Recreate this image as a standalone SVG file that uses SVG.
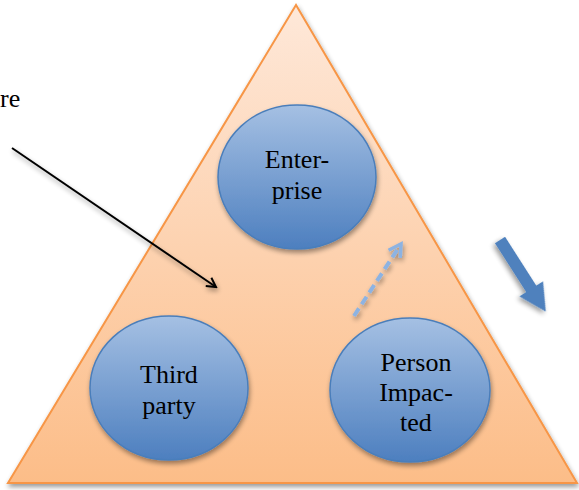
<svg xmlns="http://www.w3.org/2000/svg" width="579" height="490" viewBox="0 0 579 490">
<defs>
<linearGradient id="tri" x1="0" y1="0" x2="0" y2="1">
<stop offset="0" stop-color="#fee8d9"/>
<stop offset="1" stop-color="#fcbd88"/>
</linearGradient>
<linearGradient id="ball" x1="0" y1="0" x2="0" y2="1">
<stop offset="0" stop-color="#a5c0e3"/>
<stop offset="1" stop-color="#4d7fbf"/>
</linearGradient>
<filter id="sh" x="-20%" y="-20%" width="150%" height="150%">
<feGaussianBlur in="SourceAlpha" stdDeviation="2.5"/>
<feOffset dx="1" dy="3" result="b"/>
<feComponentTransfer><feFuncA type="linear" slope="0.4"/></feComponentTransfer>
<feMerge><feMergeNode/><feMergeNode in="SourceGraphic"/></feMerge>
</filter>
<marker id="open" markerWidth="12" markerHeight="12" refX="10" refY="6" orient="auto" markerUnits="userSpaceOnUse">
<path d="M1,1 L10,6 L1,11" fill="none" stroke="#000" stroke-width="2"/>
</marker>
<marker id="openb" markerWidth="16" markerHeight="16" refX="13" refY="8" orient="auto" markerUnits="userSpaceOnUse">
<path d="M1,1 L13,8 L1,15" fill="none" stroke="#8db3e2" stroke-width="3.5"/>
</marker>
<style>
.ball{fill:url(#ball);stroke:#4a7ebb;stroke-width:1.5;filter:url(#sh)}
text{font-family:'Liberation Serif','Times New Roman',serif;font-size:26px;fill:#000}
.t{text-anchor:middle}
</style>
</defs>
<g id="triangle">
<polygon points="296,5 8,483 577,483" fill="url(#tri)" stroke="#f79646" stroke-width="2" filter="url(#sh)"/>
</g>
<g id="enterprise">
<ellipse class="ball" cx="297" cy="177" rx="79" ry="72"/>
<text class="t" x="297" y="168">Enter-</text>
<text class="t" x="297" y="199">prise</text>
</g>
<g id="third-party">
<ellipse class="ball" cx="169" cy="388" rx="79" ry="72"/>
<text class="t" x="169" y="383">Third</text>
<text class="t" x="169" y="414">party</text>
</g>
<g id="person-impacted">
<ellipse class="ball" cx="410" cy="390" rx="80" ry="72"/>
<text class="t" x="416" y="371">Person</text>
<text class="t" x="416" y="401">Impac-</text>
<text class="t" x="416" y="431">ted</text>
</g>
<g id="label">
<text x="0" y="107">re</text>
</g>
<g id="connectors">
<line x1="12" y1="148" x2="216" y2="287" stroke="#000" stroke-width="2" marker-end="url(#open)" filter="url(#sh)"/>
<line x1="354" y1="316" x2="401" y2="244" stroke="#8db3e2" stroke-width="4" stroke-dasharray="9,5" marker-end="url(#openb)" filter="url(#sh)"/>
<g transform="translate(500,240) rotate(57.4)" filter="url(#sh)">
<polygon points="0,-6 58,-6 58,-14 85,0 58,14 58,6 0,6" fill="#4f81bd"/>
</g>
</g>
</svg>
